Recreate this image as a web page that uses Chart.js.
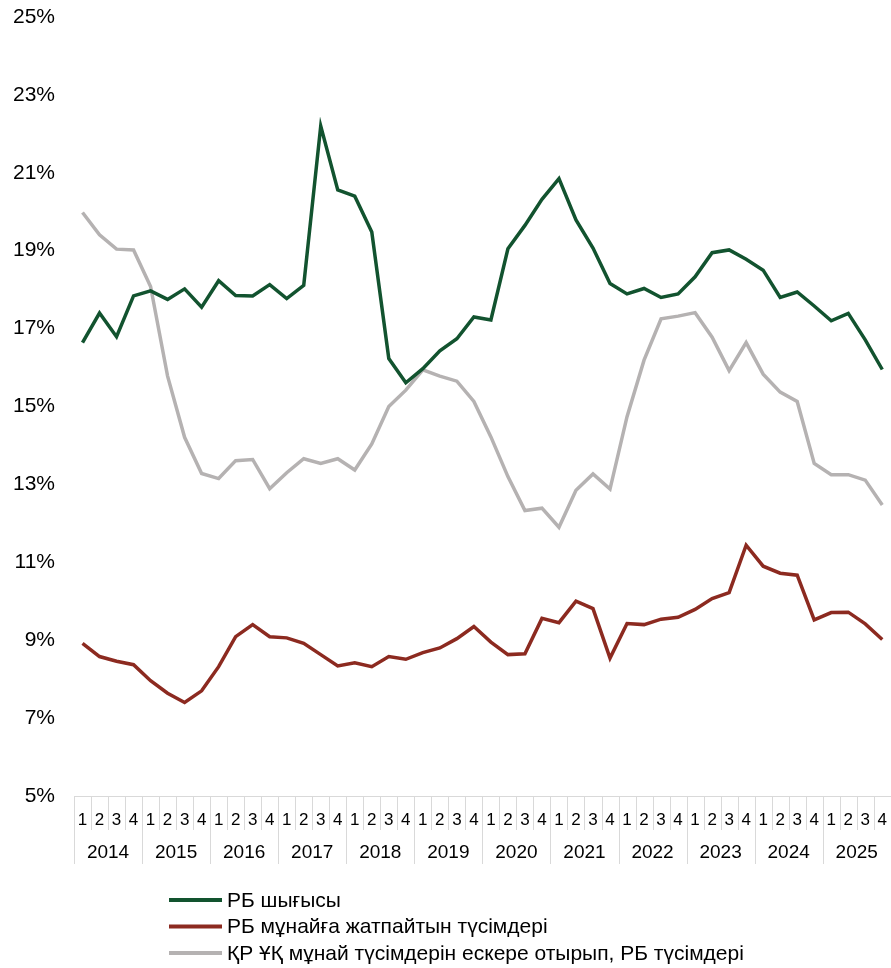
<!DOCTYPE html>
<html>
<head>
<meta charset="utf-8">
<script src="https://cdn.jsdelivr.net/npm/chart.js@4.4.1/dist/chart.umd.min.js"></script>
<style>
  html, body { margin: 0; padding: 0; background: #fff; overflow: hidden; }
  canvas { display: block; }
</style>
</head>
<body>
<canvas id="chart" width="893" height="968"></canvas>
<script>
// Деректер (тоқсандар, 2014–2025)
const years = ["2014", "2015", "2016", "2017", "2018", "2019", "2020", "2021", "2022", "2023", "2024", "2025"];
const quarters = ["1", "2", "3", "4"];
const labels = years.flatMap(() => quarters);

const expenditure = [
  16.64, 17.40, 16.79, 17.84,
  17.97, 17.75, 18.02, 17.55,
  18.23, 17.85, 17.84, 18.13,
  17.77, 18.11, 22.20, 20.56,
  20.40, 19.48, 16.23, 15.61,
  15.97, 16.43, 16.74, 17.30,
  17.22, 19.05, 19.65, 20.32,
  20.85, 19.79, 19.07, 18.16,
  17.89, 18.03, 17.80, 17.89,
  18.33, 18.95, 19.02, 18.78,
  18.50, 17.80, 17.94, 17.58,
  17.20, 17.39, 16.71, 15.95,
];

const nonOilRevenue = [
  8.92, 8.58, 8.46, 8.37,
  7.96, 7.64, 7.40, 7.70,
  8.32, 9.09, 9.40, 9.09,
  9.06, 8.92, 8.63, 8.34,
  8.42, 8.32, 8.58, 8.51,
  8.68, 8.80, 9.04, 9.35,
  8.95, 8.63, 8.65, 9.56,
  9.45, 10.00, 9.81, 8.54,
  9.43, 9.40, 9.54, 9.59,
  9.79, 10.07, 10.22, 11.44,
  10.90, 10.72, 10.67, 9.52,
  9.71, 9.72, 9.42, 9.02,
];

const revenueWithFund = [
  19.98, 19.41, 19.04, 19.02,
  18.08, 15.78, 14.21, 13.28,
  13.15, 13.61, 13.64, 12.89,
  13.30, 13.66, 13.54, 13.66,
  13.37, 14.04, 15.00, 15.42,
  15.94, 15.78, 15.65, 15.13,
  14.22, 13.20, 12.33, 12.39,
  11.90, 12.85, 13.27, 12.88,
  14.74, 16.19, 17.25, 17.32,
  17.41, 16.78, 15.92, 16.64,
  15.83, 15.37, 15.13, 13.54,
  13.25, 13.25, 13.11, 12.47,
];

const yTicks = [5, 7, 9, 11, 13, 15, 17, 19, 21, 23, 25];

const FONT = '"Liberation Sans", Arial, sans-serif';
const gridColor = "#d9d9d9";

// Y осінің белгілері (оң жаққа тураланған)
const yLabelsPlugin = {
  id: "yLabels",
  afterDraw(chart) {
    const y = chart.scales.y;
    const c = chart.ctx;
    c.save();
    c.fillStyle = "#000";
    c.font = "21px " + FONT;
    c.textAlign = "right";
    c.textBaseline = "middle";
    yTicks.forEach((v) => {
      c.fillText(v + "%", 55, y.getPixelForValue(v));
    });
    c.restore();
  },
};

// Тоқсан/жыл бөлгіштері және жыл белгілері
const yearAxisPlugin = {
  id: "yearAxis",
  afterDraw(chart) {
    const x = chart.scales.x;
    const c = chart.ctx;
    const n = labels.length;
    const step = x.width / n;
    const top = x.top;
    c.save();
    c.strokeStyle = gridColor;
    c.lineWidth = 1;
    for (let i = 0; i <= n; i++) {
      const px = Math.round(x.left + i * step) + 0.5;
      const len = i % 4 === 0 ? 68 : 34;
      c.beginPath();
      c.moveTo(px, top);
      c.lineTo(px, top + len);
      c.stroke();
    }
    c.fillStyle = "#000";
    c.font = "19px " + FONT;
    c.textAlign = "center";
    c.textBaseline = "middle";
    years.forEach((yr, i) => {
      const mid = (x.getPixelForValue(i * 4) + x.getPixelForValue(i * 4 + 3)) / 2;
      c.fillText(yr, mid, top + 57);
    });
    c.restore();
  },
};

// Аңыз (вертикаль)
const legendPlugin = {
  id: "stackLegend",
  afterDraw(chart) {
    const c = chart.ctx;
    c.save();
    c.font = "21px " + FONT;
    c.textBaseline = "middle";
    c.textAlign = "left";
    chart.data.datasets.forEach((ds, i) => {
      const y = 900 + i * 26.5;
      c.strokeStyle = ds.borderColor;
      c.lineWidth = 4;
      c.beginPath();
      c.moveTo(169, y);
      c.lineTo(222, y);
      c.stroke();
      c.fillStyle = "#000";
      c.fillText(ds.label, 227, y + 1);
    });
    c.restore();
  },
};

const ctx = document.getElementById("chart").getContext("2d");
new Chart(ctx, {
  type: "line",
  data: {
    labels: labels,
    datasets: [
      {
        label: "РБ шығысы",
        data: expenditure,
        borderColor: "#12532f",
        borderWidth: 3.5,
        pointRadius: 0,
        tension: 0,
      },
      {
        label: "РБ мұнайға жатпайтын түсімдері",
        data: nonOilRevenue,
        borderColor: "#8c2a20",
        borderWidth: 3.5,
        pointRadius: 0,
        tension: 0,
      },
      {
        label: "ҚР ҰҚ мұнай түсімдерін ескере отырып, РБ түсімдері",
        data: revenueWithFund,
        borderColor: "#b5b2b2",
        borderWidth: 3.5,
        pointRadius: 0,
        tension: 0,
      },
    ],
  },
  options: {
    responsive: false,
    animation: false,
    layout: { padding: { top: 17, left: 0, right: 0, bottom: 0 } },
    plugins: {
      legend: { display: false },
      tooltip: { enabled: false },
    },
    scales: {
      x: {
        offset: true,
        grid: { display: false },
        border: { display: true, color: gridColor, width: 1 },
        ticks: {
          color: "#000",
          font: { family: FONT, size: 17 },
          padding: 6,
          maxRotation: 0,
          autoSkip: false,
        },
        afterFit(scale) { scale.height = 172; },
      },
      y: {
        min: 5,
        max: 25,
        grid: { display: false },
        border: { display: false },
        ticks: { display: false },
        afterFit(scale) { scale.width = 74; },
      },
    },
  },
  plugins: [yLabelsPlugin, yearAxisPlugin, legendPlugin],
});
</script>
</body>
</html>
